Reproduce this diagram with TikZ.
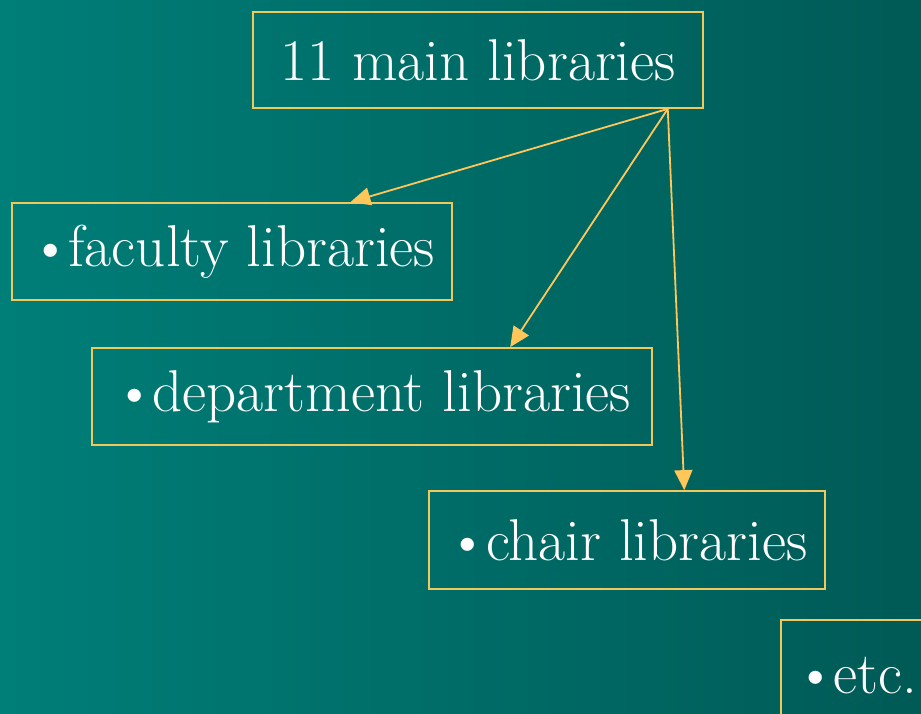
\documentclass[tikz,border=0pt]{standalone}
\usepackage{tikz}
\usetikzlibrary{arrows.meta,calc}
\definecolor{tealL}{RGB}{0,126,120}
\definecolor{tealM}{RGB}{0,115,110}
\definecolor{tealR}{RGB}{0,90,86}
\definecolor{boxgold}{RGB}{240,200,92}
\definecolor{arrowgold}{RGB}{255,198,90}
\newcommand{\libdot}{\textbullet\kern-3pt}

\begin{document}
\begin{tikzpicture}[x=1pt,y=-1pt,
  libbox/.style={draw=boxgold,line width=1.8pt,text=white,inner sep=0pt,
    font=\fontsize{59}{70}\selectfont},
  libarrow/.style={draw=arrowgold,line width=1.8pt,
    -{Triangle[length=20pt,width=18pt,fill=arrowgold]}}]
\clip (0,0) rectangle (921,713);
\shade[left color=tealL,middle color=tealM,right color=tealR] (0,0) rectangle (921,713);
% the boxes
\node[libbox,minimum width=450pt,minimum height=96pt] (main) at (478,60) {11 main libraries};
\node[libbox,minimum width=440pt,minimum height=97pt] (faculty) at (232,251.5) {\libdot faculty libraries};
\node[libbox,minimum width=560pt,minimum height=97pt] (department) at (372,396.5) {\libdot department libraries};
\node[libbox,minimum width=396pt,minimum height=98pt] (chair) at (627,540) {\libdot chair libraries};
\node[libbox,minimum width=150pt,minimum height=112pt,anchor=north west] (etc) at (780,619) {\libdot etc.};
% arrows from the main box
\coordinate (src) at ($(main.south west)!0.92!(main.south east)$);
\foreach \lib/\f in {faculty/0.768,department/0.746,chair/0.644} {
  \draw[libarrow] (src) -- ($(\lib.north west)!\f!(\lib.north east)$);
}
\end{tikzpicture}
\end{document}
